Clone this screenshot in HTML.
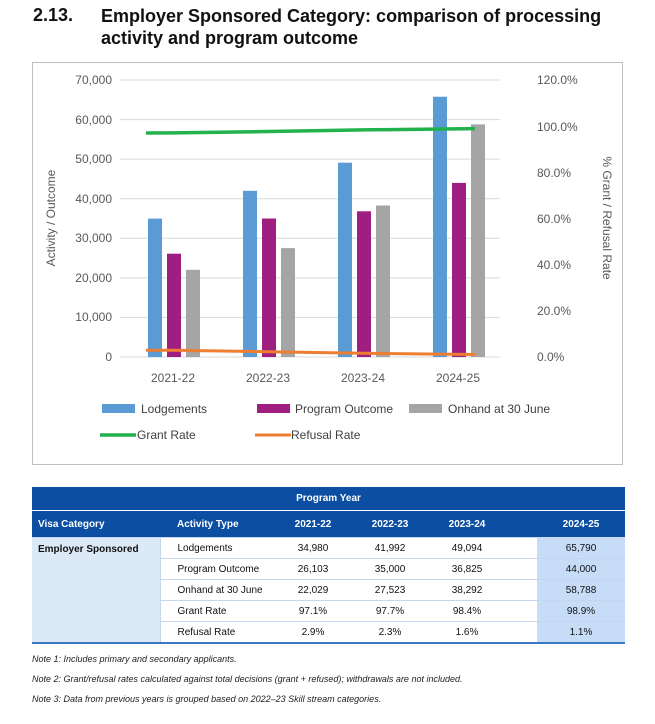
<!DOCTYPE html>
<html><head><meta charset="utf-8"><style>
body{margin:0;width:655px;height:724px;background:#fff;position:relative;font-family:"Liberation Sans",sans-serif;overflow:hidden}
.t{position:absolute;font-weight:bold;font-size:18px;color:#111}
table{position:absolute;left:32px;top:487px;width:593px;border-collapse:collapse;font-size:10px;color:#111;table-layout:fixed}
td{height:20px;padding:0;text-align:center;border-top:1px solid #c5d7ee;border-bottom:1px solid #c5d7ee}
.h td{background:#0b4ea2;color:#fff;font-weight:bold;border:none}
.a{text-align:left;padding-left:17px;border-left:1px solid #c5d7ee}
.s{background:#c6dcf7}
.p{padding-right:32px}
.note{position:absolute;left:32px;font-size:9px;font-style:italic;color:#222}
</style></head><body>
<div class="t" style="left:33px;top:5px">2.13.</div>
<div class="t" style="left:101px;top:5px;line-height:22px">Employer Sponsored Category: comparison of processing<br>activity and program outcome</div>
<svg width="655" height="724" style="position:absolute;left:0;top:0" font-family="Liberation Sans, sans-serif">
<rect x="32.5" y="62.5" width="590" height="402" fill="none" stroke="#bfbfbf"/>
<g stroke="#d9d9d9" stroke-width="1">
<line x1="120" x2="500" y1="80" y2="80"/><line x1="120" x2="500" y1="119.6" y2="119.6"/><line x1="120" x2="500" y1="159.1" y2="159.1"/><line x1="120" x2="500" y1="198.7" y2="198.7"/><line x1="120" x2="500" y1="238.3" y2="238.3"/><line x1="120" x2="500" y1="277.9" y2="277.9"/><line x1="120" x2="500" y1="317.4" y2="317.4"/><line x1="120" x2="500" y1="357" y2="357"/>
</g>
<g font-size="12" fill="#595959" text-anchor="end">
<text x="112" y="84">70,000</text><text x="112" y="124">60,000</text><text x="112" y="163">50,000</text><text x="112" y="203">40,000</text><text x="112" y="242">30,000</text><text x="112" y="282">20,000</text><text x="112" y="321">10,000</text><text x="112" y="361">0</text>
</g>
<g font-size="12" fill="#595959">
<text x="537" y="84">120.0%</text><text x="537" y="131">100.0%</text><text x="537" y="177">80.0%</text><text x="537" y="223">60.0%</text><text x="537" y="269">40.0%</text><text x="537" y="315">20.0%</text><text x="537" y="361">0.0%</text>
</g>
<text transform="translate(55,218) rotate(-90)" text-anchor="middle" font-size="12" fill="#595959">Activity / Outcome</text>
<text transform="translate(603,218) rotate(90)" text-anchor="middle" font-size="12" fill="#595959">% Grant / Refusal Rate</text>
<g fill="#5b9bd5"><rect x="148" y="218.6" width="14" height="138.4"/><rect x="243" y="190.8" width="14" height="166.2"/><rect x="338" y="162.7" width="14" height="194.3"/><rect x="433" y="96.7" width="14" height="260.3"/></g>
<g fill="#9e1f7f"><rect x="167" y="253.7" width="14" height="103.3"/><rect x="262" y="218.5" width="14" height="138.5"/><rect x="357" y="211.3" width="14" height="145.7"/><rect x="452" y="182.9" width="14" height="174.1"/></g>
<g fill="#a5a5a5"><rect x="186" y="269.8" width="14" height="87.2"/><rect x="281" y="248.1" width="14" height="108.9"/><rect x="376" y="205.5" width="14" height="151.5"/><rect x="471" y="124.4" width="14" height="232.6"/></g>
<polyline points="146,133 173,132.9 268,131.5 363,129.9 475,128.6" fill="none" stroke="#22b14c" stroke-width="3.5"/>
<polyline points="146,350.3 173,350.3 268,351.7 363,353.3 475,354.5" fill="none" stroke="#ed7d31" stroke-width="3"/>
<g font-size="12" fill="#595959" text-anchor="middle">
<text x="173" y="382">2021-22</text><text x="268" y="382">2022-23</text><text x="363" y="382">2023-24</text><text x="458" y="382">2024-25</text>
</g>
<g font-size="12" fill="#404040">
<rect x="102" y="404" width="33" height="9" fill="#5b9bd5"/><text x="141" y="413">Lodgements</text>
<rect x="257" y="404" width="33" height="9" fill="#9e1f7f"/><text x="295" y="413">Program Outcome</text>
<rect x="409" y="404" width="33" height="9" fill="#a5a5a5"/><text x="448" y="413">Onhand at 30 June</text>
<line x1="100" x2="136" y1="435" y2="435" stroke="#22b14c" stroke-width="3.5"/><text x="137" y="439">Grant Rate</text>
<line x1="255" x2="291" y1="435" y2="435" stroke="#ed7d31" stroke-width="3"/><text x="291" y="439">Refusal Rate</text>
</g>
</svg>
<table>
<colgroup><col style="width:128px"><col style="width:115px"><col style="width:76px"><col style="width:78px"><col style="width:108px"><col></colgroup>
<tr class="h"><td colspan="6" style="height:23px;border-bottom:1px solid #fff">Program Year</td></tr>
<tr class="h"><td style="text-align:left;padding-left:6px;height:26px">Visa Category</td><td style="text-align:left;padding-left:17px">Activity Type</td><td>2021-22</td><td>2022-23</td><td class="p">2023-24</td><td>2024-25</td></tr>
<tr><td rowspan="5" style="background:#dce9f7;text-align:left;vertical-align:top;padding:6px 0 0 6px;font-weight:bold">Employer Sponsored</td><td class="a">Lodgements</td><td>34,980</td><td>41,992</td><td class="p">49,094</td><td class="s">65,790</td></tr>
<tr><td class="a">Program Outcome</td><td>26,103</td><td>35,000</td><td class="p">36,825</td><td class="s">44,000</td></tr>
<tr><td class="a">Onhand at 30 June</td><td>22,029</td><td>27,523</td><td class="p">38,292</td><td class="s">58,788</td></tr>
<tr><td class="a">Grant Rate</td><td>97.1%</td><td>97.7%</td><td class="p">98.4%</td><td class="s">98.9%</td></tr>
<tr style="border-bottom:2px solid #3b78c4"><td class="a">Refusal Rate</td><td>2.9%</td><td>2.3%</td><td class="p">1.6%</td><td class="s">1.1%</td></tr>
</table>
<div class="note" style="top:654px">Note 1: Includes primary and secondary applicants.</div>
<div class="note" style="top:674px">Note 2: Grant/refusal rates calculated against total decisions (grant + refused); withdrawals are not included.</div>
<div class="note" style="top:694px">Note 3: Data from previous years is grouped based on 2022–23 Skill stream categories.</div>
</body></html>
